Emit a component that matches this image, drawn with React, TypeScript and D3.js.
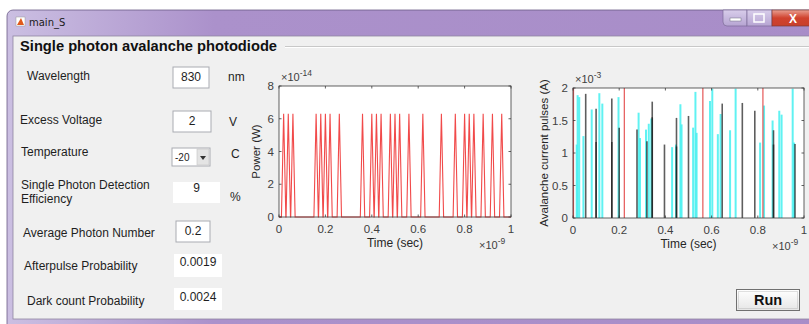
import React from 'react';
import * as d3 from 'd3';

// ---- input panel ----
const fieldLabels = ['Wavelength', 'Excess Voltage', 'Temperature', 'Single Photon Detection|Efficiency', 'Average Photon Number', 'Afterpulse Probability', 'Dark count Probability'];
const fieldValues = ['830', '2', '-20', '9', '0.2', '0.0019', '0.0024'];
const fieldUnits = ['nm', 'V', 'C', '%', '', '', ''];

// ---- axes ----
const timeTicks = [0, 0.2, 0.4, 0.6, 0.8, 1];
const powerTicks = [0, 2, 4, 6, 8];
const currentTicks = [0, 0.5, 1, 1.5, 2];

// ---- optical pulses (x 1e-9 s, x 1e-14 W) ----
const photonTimes = [0.02, 0.04, 0.06, 0.16, 0.18, 0.2, 0.22, 0.26, 0.36, 0.4, 0.42, 0.44, 0.48, 0.5, 0.52, 0.56, 0.62, 0.7, 0.76, 0.8, 0.82, 0.84, 0.88, 0.92, 0.96];
const photonPeak = 6.3;

// ---- avalanche current pulses (x 1e-9 s, x 1e-3 A) ----
const cyanTimes = [0.016, 0.02, 0.027, 0.045, 0.081, 0.114, 0.127, 0.197, 0.284, 0.29, 0.316, 0.328, 0.339, 0.429, 0.446, 0.465, 0.47, 0.52, 0.53, 0.535, 0.593, 0.603, 0.627, 0.639, 0.68, 0.704, 0.81, 0.827, 0.864, 0.893, 0.903, 0.951, 0.957];
const cyanAmps = [1.13, 1.89, 1.86, 1.26, 1.67, 1.92, 1.76, 1.86, 1.62, 1.23, 1.36, 1.45, 1.53, 1.09, 1.13, 1.75, 1.44, 1.39, 1.94, 1.31, 1.8, 1.99, 1.29, 1.6, 1.35, 1.99, 1.16, 1.73, 1.5, 1.65, 1.59, 1.99, 1.16];
const blackTimes = [0.055, 0.1, 0.1, 0.168, 0.168, 0.2, 0.277, 0.32, 0.343, 0.343, 0.396, 0.448, 0.448, 0.5, 0.646, 0.733, 0.787, 0.868, 0.868, 0.961];
const blackAmps = [1.91, 1.68, 1.17, 1.84, 1.17, 1.39, 1.36, 1.18, 1.79, 1.55, 1.13, 1.54, 1.1, 1.57, 1.76, 1.77, 1.65, 1.35, 1.13, 1.14];
const redTimes = [0, 0.22, 0.56, 0.82];
const redAmp = 2;

const W = 809, H = 324;
const UI = '"Liberation Sans", Arial, sans-serif';
const PULSE_HW = 0.0095;

const fmt = (d: number) => String(+d.toFixed(2));

// row layout for the input panel
const rows = [
  { lx: 27, ly: 80, box: [173, 67, 36, 21], border: true, vy: 81, ux: 228, uy: 81 },
  { lx: 20, ly: 124, box: [173, 111, 38, 21], border: true, vy: 125, ux: 229, uy: 126 },
  { lx: 21, ly: 156, box: [172, 148, 38, 18], border: true, vy: 161, ux: 231, uy: 158 },
  { lx: 21, ly: 189, box: [173, 182, 47, 21], border: false, vy: 192, ux: 230, uy: 201 },
  { lx: 23, ly: 237, box: [176, 221, 34, 21], border: true, vy: 235, ux: 0, uy: 0 },
  { lx: 24, ly: 270, box: [174, 254, 48, 23], border: false, vy: 266, ux: 0, uy: 0 },
  { lx: 27, ly: 305, box: [174, 288, 48, 22], border: false, vy: 301, ux: 0, uy: 0 },
];

function Axes({ x, y, yTicks, xLabel, yLabel, yLabelOff, yExp, xExp, children }: any) {
  const [x0, x1] = x.range();
  const [y1, y0] = y.range();
  const tl = 2.5;
  return (
    <g fontFamily={UI}>
      <rect x={x0} y={y0} width={x1 - x0} height={y1 - y0} fill="#fff" />
      {children}
      <rect x={x0} y={y0} width={x1 - x0} height={y1 - y0} fill="none" stroke="#3a3a3a" strokeWidth={0.8} />
      {timeTicks.map(t => (
        <g key={'x' + t}>
          <line x1={x(t)} x2={x(t)} y1={y1} y2={y1 - tl} stroke="#3a3a3a" strokeWidth={0.8} />
          <line x1={x(t)} x2={x(t)} y1={y0} y2={y0 + tl} stroke="#3a3a3a" strokeWidth={0.8} />
          <text x={x(t)} y={y1 + 16} textAnchor="middle" fontSize={11.5} fill="#404040">{fmt(t)}</text>
        </g>
      ))}
      {yTicks.map((t: number) => (
        <g key={'y' + t}>
          <line x1={x0} x2={x0 + tl} y1={y(t)} y2={y(t)} stroke="#3a3a3a" strokeWidth={0.8} />
          <line x1={x1} x2={x1 - tl} y1={y(t)} y2={y(t)} stroke="#3a3a3a" strokeWidth={0.8} />
          <text x={x0 - 5} y={y(t) + 4} textAnchor="end" fontSize={11.5} fill="#404040">{fmt(t)}</text>
        </g>
      ))}
      <text x={x0 + 2} y={y0 - 5} fontSize={11} fill="#404040">×10<tspan dy={-5} fontSize={8.5}>{yExp}</tspan></text>
      <text x={x1 - 32} y={y1 + 32} fontSize={11} fill="#404040">×10<tspan dy={-5} fontSize={8.5}>{xExp}</tspan></text>
      <text x={(x0 + x1) / 2} y={y1 + 30} textAnchor="middle" fontSize={12} fill="#262626">{xLabel}</text>
      <text transform={`translate(${x0 - yLabelOff},${(y0 + y1) / 2}) rotate(-90)`} textAnchor="middle" fontSize={11.5} fill="#262626">{yLabel}</text>
    </g>
  );
}

export default function App() {
  const xP = d3.scaleLinear().domain([0, 1]).range([279, 511]);
  const yP = d3.scaleLinear().domain([0, 8]).range([217, 86]);
  const xA = d3.scaleLinear().domain([0, 1]).range([573, 804]);
  const yA = d3.scaleLinear().domain([0, 2]).range([218, 88]);

  // optical pulse train as one red trace
  const pts: [number, number][] = [[0, 0]];
  photonTimes.forEach(t => { pts.push([t - PULSE_HW, 0], [t, photonPeak], [t + PULSE_HW, 0]); });
  pts.push([1, 0]);
  const powerLine = d3.line<[number, number]>().x(d => xP(d[0])).y(d => yP(d[1]))(pts) || '';

  return (
    <svg width={W} height={H} style={{ position: 'absolute', left: 0, top: 0 }}>
      <defs>
        <linearGradient id="tb" x1="0" x2="1" y1="0" y2="0">
          <stop offset="0" stopColor="#cbbfe2" />
          <stop offset="0.25" stopColor="#ab91cb" />
          <stop offset="1" stopColor="#a88dc8" />
        </linearGradient>
        <linearGradient id="cls" x1="0" x2="0" y1="0" y2="1">
          <stop offset="0" stopColor="#e9a092" />
          <stop offset="0.5" stopColor="#d0422e" />
          <stop offset="1" stopColor="#c8402c" />
        </linearGradient>
        <linearGradient id="btn" x1="0" x2="0" y1="0" y2="1">
          <stop offset="0" stopColor="#d8cdea" />
          <stop offset="1" stopColor="#b6a4d2" />
        </linearGradient>
        <linearGradient id="run" x1="0" x2="0" y1="0" y2="1">
          <stop offset="0" stopColor="#ffffff" />
          <stop offset="1" stopColor="#e6e6e6" />
        </linearGradient>
      </defs>
      <rect width={W} height={H} fill="#fff" />
      {/* window frame */}
      <rect x={7} y={10} width={830} height={330} rx={6} fill="url(#tb)" stroke="#6b5a86" strokeWidth={0.8} />
      <rect x={13} y={36} width={W} height={283} fill="#f0f0f0" stroke="#8f86a0" strokeWidth={0.8} />
      {/* title */}
      <g>
        <rect x={16} y={17} width={9} height={9} fill="#fff" stroke="#999" strokeWidth={0.5} />
        <path d="M17,25 L21,18 L24,25 Z" fill="#e05a1c" />
        <text x={29} y={26} fontFamily='"DejaVu Sans", sans-serif' fontSize={10} fill="#1a1a1a">main_S</text>
      </g>
      {/* caption buttons */}
      <path d="M723,10 L747,10 L747,26 L727,26 Q723,26 723,22 Z" fill="url(#btn)" stroke="#7c6c98" strokeWidth={0.7} />
      <rect x={730} y={18} width={11} height={3} fill="#fff" stroke="#6c6c80" strokeWidth={0.5} />
      <rect x={747} y={10} width={25} height={16} fill="url(#btn)" stroke="#7c6c98" strokeWidth={0.7} />
      <rect x={754} y={14} width={10} height={8} fill="none" stroke="#fff" strokeWidth={1.5} />
      <rect x={772} y={10} width={45} height={16} fill="url(#cls)" stroke="#7c3a34" strokeWidth={0.7} />
      <text x={793} y={23} textAnchor="middle" fontFamily={UI} fontWeight="bold" fontSize={12} fill="#fff">X</text>

      {/* panel */}
      <line x1={285} x2={W} y1={46.5} y2={46.5} stroke="#c8c8c8" />
      <line x1={285} x2={W} y1={47.5} y2={47.5} stroke="#fff" />
      <text x={20} y={51} fontFamily={UI} fontWeight="bold" fontSize={14.7} fill="#111">Single photon avalanche photodiode</text>

      <g fontFamily={UI} fontSize={12} fill="#1e1e1e">
        {rows.map((r, i) => {
          const [bx, by, bw, bh] = r.box;
          const lines = fieldLabels[i].split('|');
          const isDrop = fieldValues[i] === '-20';
          return (
            <g key={i}>
              {lines.map((l, k) => <text key={k} x={r.lx} y={r.ly + k * 14}>{l}</text>)}
              <rect x={bx} y={by} width={bw} height={bh} fill="#fff" stroke={r.border ? '#a9abb2' : 'none'} />
              {isDrop ? (
                <g>
                  <rect x={bx + bw - 13} y={by + 1} width={12} height={bh - 2} fill="#e4e4e4" stroke="#c4c4c4" strokeWidth={0.6} />
                  <path d={`M${bx + bw - 10},${by + 8} l6,0 l-3,4 Z`} fill="#333" />
                  <text x={bx + 3} y={r.vy} fontSize={10}>{fieldValues[i]}</text>
                </g>
              ) : (
                <text x={bx + bw / 2} y={r.vy} textAnchor="middle">{fieldValues[i]}</text>
              )}
              {fieldUnits[i] && <text x={r.ux} y={r.uy}>{fieldUnits[i]}</text>}
            </g>
          );
        })}
      </g>

      {/* optical power plot */}
      <Axes x={xP} y={yP} yTicks={powerTicks} xLabel="Time (sec)" yLabel="Power (W)" yLabelOff={19} yExp="-14" xExp="-9">
        <path d={powerLine} fill="none" stroke="#ee2a2a" strokeWidth={1.1} strokeOpacity={0.85} />
      </Axes>

      {/* avalanche current plot */}
      <Axes x={xA} y={yA} yTicks={currentTicks} xLabel="Time (sec)" yLabel="Avalanche current pulses (A)" yLabelOff={25} yExp="-3" xExp="-9">
        {cyanTimes.map((t, i) => (
          <line key={'c' + i} x1={xA(t)} x2={xA(t)} y1={yA(0)} y2={yA(cyanAmps[i])} stroke="#44f0f0" strokeWidth={2} strokeOpacity={0.85} />
        ))}
        {blackTimes.map((t, i) => (
          <line key={'b' + i} x1={xA(t)} x2={xA(t)} y1={yA(0)} y2={yA(blackAmps[i])} stroke="#1a1a1a" strokeWidth={1.6} strokeOpacity={0.7} />
        ))}
        {redTimes.map((t, i) => (
          <line key={'r' + i} x1={xA(t) + 0.5} x2={xA(t) + 0.5} y1={yA(0)} y2={yA(redAmp)} stroke="#e03a3a" strokeWidth={1.2} strokeOpacity={0.85} />
        ))}
      </Axes>

      {/* run button */}
      <rect x={736.5} y={289.5} width={63} height={21} fill="url(#run)" stroke="#707070" />
      <rect x={738.5} y={291.5} width={59} height={17} fill="none" stroke="#9a9a9a" strokeDasharray="1,1" strokeWidth={0.6} />
      <text x={768} y={305} textAnchor="middle" fontFamily={UI} fontWeight="bold" fontSize={14.5} fill="#111">Run</text>
    </svg>
  );
}
